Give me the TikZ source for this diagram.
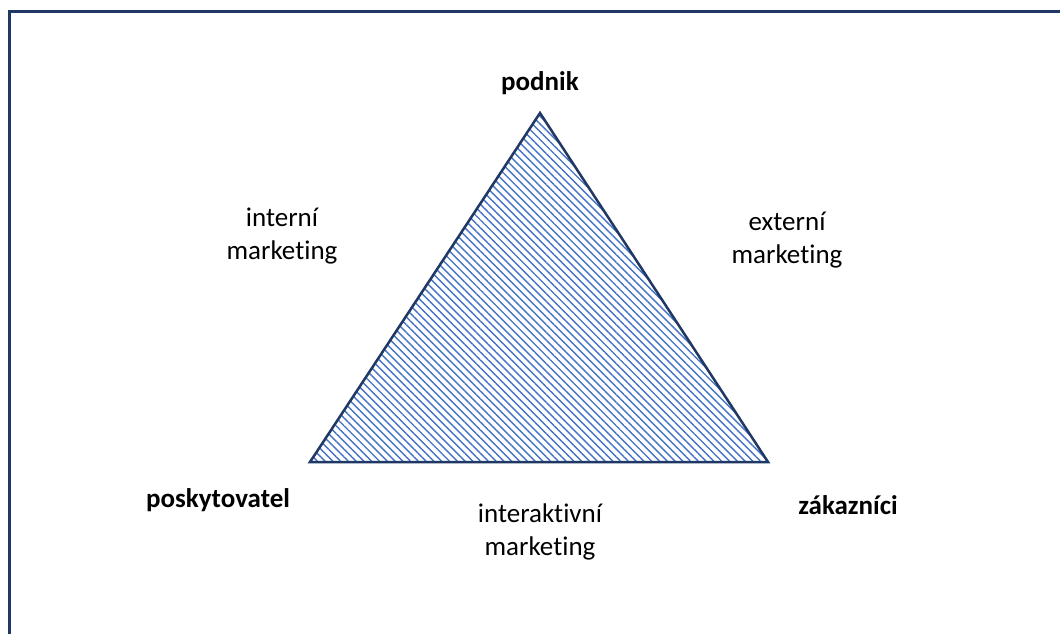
\documentclass[tikz,border=0pt]{standalone}
\usepackage{fontspec}
\setmainfont[Ligatures={NoCommon}]{Carlito}
\usetikzlibrary{patterns.meta}
\definecolor{navy}{HTML}{1F3864}
\definecolor{hatch}{HTML}{4472C4}
\tikzset{
  lbl/.style={font=\fontsize{27}{33}\selectfont, align=center, inner sep=0pt},
  blbl/.style={lbl, font=\fontsize{27}{33}\selectfont\bfseries},
}
\begin{document}
\begin{tikzpicture}[x=1pt,y=-1pt]
\useasboundingbox (0,0) rectangle (1060,634);
\fill[white] (0,0) rectangle (1060,634);
\draw[navy, line width=3pt] (9.5,640) -- (9.5,11.5) -- (1070,11.5);
\coordinate (top) at (540,113);
\coordinate (bl) at (310,462);
\coordinate (br) at (768,462);
\fill[pattern={Lines[angle=-45,distance=5.5pt,line width=1.4pt]}, pattern color=hatch] (top) -- (bl) -- (br) -- cycle;
\draw[navy, line width=2.5pt, line join=miter] (top) -- (bl) -- (br) -- cycle;
\node[blbl] (podnik) at (540,83) {podnik};
\node[lbl] (intm) at (282,236) {interní\\marketing};
\node[lbl] (extm) at (787,240) {externí\\marketing};
\node[blbl] (posk) at (218,500) {poskytovatel};
\node[lbl] (interm) at (540,532) {interaktivní\\marketing};
\node[blbl] (zak) at (848,505) {zákazníci};
\end{tikzpicture}
\end{document}
